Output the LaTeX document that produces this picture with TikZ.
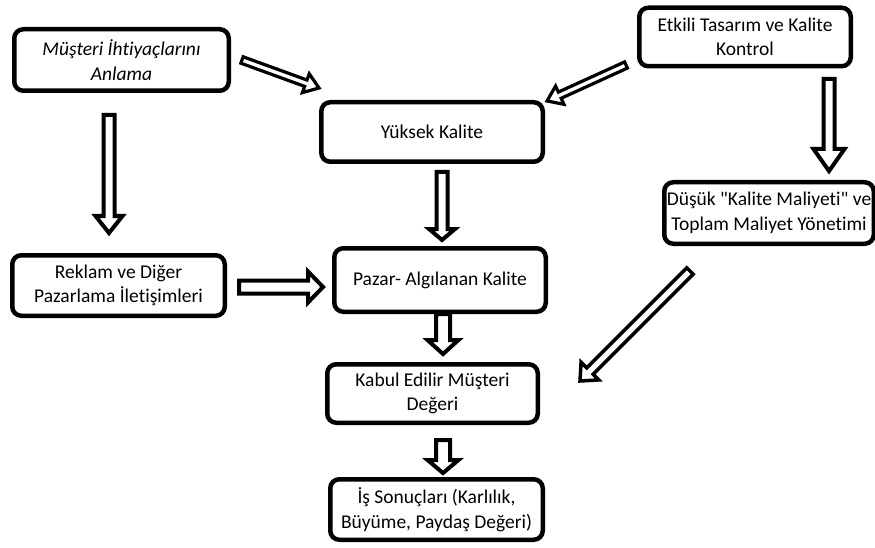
\documentclass[tikz,border=0pt]{standalone}
\usepackage{fontspec}
\setmainfont{Carlito}[Ligatures=NoCommon]
% same face without the TeX input mapping, for straight quotes
\newfontfamily\plainquote{Carlito}
\newcommand{\sq}{{\plainquote\symbol{34}}}
\usetikzlibrary{calc}

% geometry of the hollow block arrows (all in pt)
\newcommand{\arrshaftw}{5.5}
\newcommand{\arrheadw}{13.5}
\newcommand{\arrheadl}{17}

\tikzset{
  box/.style={draw=black, line width=4.5pt, rounded corners=9pt, fill=white,
    align=center, inner sep=0pt, font=\fontsize{19.5}{24.5}\selectfont},
  arrshaft/.code={\renewcommand{\arrshaftw}{#1}},
  arrhead/.code={\renewcommand{\arrheadw}{#1}},
  arrlen/.code={\renewcommand{\arrheadl}{#1}},
  hollow/.style={draw=black, fill=white, line width=4pt, line join=miter,
    miter limit=10,
    to path={
      let \p1=(\tikztostart), \p2=(\tikztotarget),
          \n1={atan2(\y2-\y1,\x2-\x1)},
          \n2={veclen(\x2-\x1,\y2-\y1)} in
      {[shift={(\p1)}, rotate=\n1]
        ({0pt},{-\arrshaftw*1pt})
        -- ({(\n2-\arrheadl)*1pt},{-\arrshaftw*1pt})
        -- ({(\n2-\arrheadl)*1pt},{-\arrheadw*1pt})
        -- ({\n2*1pt},{0pt})
        -- ({(\n2-\arrheadl)*1pt},{\arrheadw*1pt})
        -- ({(\n2-\arrheadl)*1pt},{\arrshaftw*1pt})
        -- ({0pt},{\arrshaftw*1pt}) -- cycle}
    }},
  slim/.style={hollow, line width=3.2pt, arrshaft=3.4, arrhead=10, arrlen=14}
}

\begin{document}
\begin{tikzpicture}[x=1pt,y=-1pt]
\useasboundingbox (0,0) rectangle (875,548);

% boxes
\node[box, minimum width=214.5pt, minimum height=61.5pt] (mus) at (121.5,60)
  {\itshape Müşteri İhtiyaçlarını\\\itshape Anlama};
\node[box, minimum width=221.5pt, minimum height=59.5pt] (yuk) at (432,132)
  {Yüksek Kalite};
\node[box, minimum width=211.5pt, minimum height=58.5pt] (etk) at (745,37)
  {Etkili Tasarım ve Kalite\\Kontrol};
\node[box, minimum width=209.5pt, minimum height=61.5pt] (dus) at (769,213)
  {Düşük \sq Kalite Maliyeti\sq{} ve\\Toplam Maliyet Yönetimi};
\node[box, minimum width=212.5pt, minimum height=60.5pt] (rek) at (118.5,285.5)
  {Reklam ve Diğer\\Pazarlama İletişimleri};
\node[box, minimum width=211.5pt, minimum height=63.5pt] (paz) at (440,280)
  {Pazar- Algılanan Kalite};
\node[box, minimum width=210.5pt, minimum height=58.5pt] (kab) at (432.5,393.5)
  {Kabul Edilir Müşteri\\Değeri};
\node[box, minimum width=212.5pt, minimum height=60.5pt] (iss) at (436.5,509.5)
  {İş Sonuçları (Karlılık,\\Büyüme, Paydaş Değeri)};

% arrow ends
\coordinate (musyukA) at (242,60);   \coordinate (musyukB) at (319,88);
\coordinate (etkyukA) at (626,65);   \coordinate (etkyukB) at (547,101);
\coordinate (musrekA) at (109,115);  \coordinate (musrekB) at (109,233);
\coordinate (etkdusA) at (829,79);   \coordinate (etkdusB) at (829,171);
\coordinate (yukpazA) at (442,172);  \coordinate (yukpazB) at (442,240);
\coordinate (rekpazA) at (239,287);  \coordinate (rekpazB) at (323,287);
\coordinate (pazkabA) at (443,314);  \coordinate (pazkabB) at (443,354);
\coordinate (duskabA) at (690,271);  \coordinate (duskabB) at (580,381);
\coordinate (kabissA) at (443,440);  \coordinate (kabissB) at (443,473);

% hollow block arrows
\draw[slim] (musyukA) to (musyukB);
\draw[slim] (etkyukA) to (etkyukB);
\draw[hollow] (musrekA) to (musrekB);
\draw[hollow, arrhead=15.5, arrlen=22] (etkdusA) to (etkdusB);
\draw[hollow, arrhead=13, arrlen=11] (yukpazA) to (yukpazB);
\draw[hollow, arrshaft=6.5, arrhead=15.5, arrlen=15] (rekpazA) to (rekpazB);
\draw[hollow, arrshaft=7, arrhead=15.5, arrlen=14] (pazkabA) to (pazkabB);
\draw[slim, line width=3.5pt, arrshaft=4.5, arrhead=12.5, arrlen=14] (duskabA) to (duskabB);
\draw[hollow, arrshaft=7, arrhead=15.5, arrlen=13] (kabissA) to (kabissB);
\end{tikzpicture}
\end{document}
